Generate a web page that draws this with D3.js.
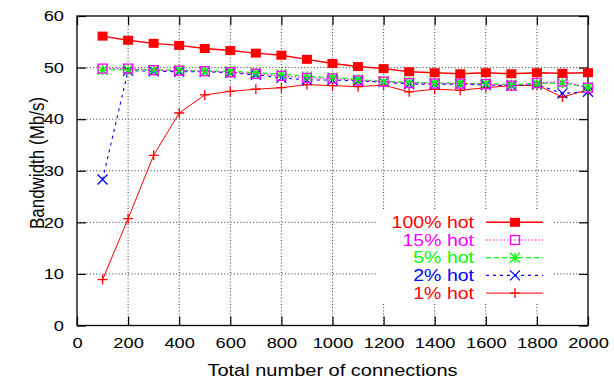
<!DOCTYPE html>
<html>
<head>
<meta charset="utf-8">
<script src="https://cdn.jsdelivr.net/npm/d3@7"></script>
<style>
  body { margin: 0; background: #fff; }
  text { font-family: "Liberation Sans", Arial, Helvetica, sans-serif; }
</style>
</head>
<body>
<div id="chart"></div>
<script>
var svgWidth = 614;
var svgHeight = 379;

var margin = { top: 16, right: 26, bottom: 53.5, left: 77 };

var width = svgWidth - margin.left - margin.right;
var height = svgHeight - margin.top - margin.bottom;

// the original picture is stretched sideways, so text is widened a bit
var stretch = 1.22;

// data
var connections = [100, 200, 300, 400, 500, 600, 700, 800, 900, 1000,
                   1100, 1200, 1300, 1400, 1500, 1600, 1700, 1800, 1900, 2000];
var hot100 = [56.1, 55.3, 54.7, 54.3, 53.7, 53.3, 52.8, 52.4, 51.6, 50.8,
              50.2, 49.8, 49.2, 49.0, 48.8, 49.0, 48.8, 49.0, 48.9, 49.0];
var hot15 = [49.8, 49.8, 49.5, 49.4, 49.3, 49.1, 48.8, 48.4, 48.0, 47.9,
             47.5, 47.3, 47.0, 46.9, 46.9, 46.8, 46.5, 47.0, 47.3, 46.1];
var hot5 = [49.5, 49.6, 49.5, 49.5, 49.3, 49.3, 49.0, 48.7, 48.3, 48.1,
            47.7, 47.3, 47.2, 47.0, 47.0, 46.9, 46.7, 46.9, 47.0, 46.2];
var hot2 = [28.3, 49.4, 49.3, 49.2, 49.2, 49.0, 48.6, 48.0, 47.6, 47.6,
            47.4, 47.2, 46.8, 46.8, 46.8, 46.6, 46.5, 46.7, 45.0, 45.3];
var hot1 = [8.9, 20.7, 33.0, 41.2, 44.7, 45.4, 45.8, 46.1, 46.7, 46.5,
            46.3, 46.6, 45.3, 45.8, 45.6, 46.1, 46.5, 46.6, 44.3, 45.7];
var seriesNames = ["100% hot", "15% hot", "5% hot", "2% hot", "1% hot"];
var xTicks = [0, 200, 400, 600, 800, 1000, 1200, 1400, 1600, 1800, 2000];
var yTicks = [0, 10, 20, 30, 40, 50, 60];

// how each series is drawn
var styles = [
  { values: hot100, color: "#ff0000", dash: null, lw: 1.4, marker: "filled" },
  { values: hot15, color: "#ff00ff", dash: "1.5,2", lw: 1.2, marker: "open" },
  { values: hot5, color: "#00ff00", dash: "5,3", lw: 1.2, marker: "star" },
  { values: hot2, color: "#0000ff", dash: "3,4", lw: 1.1, marker: "cross" },
  { values: hot1, color: "#ff0000", dash: null, lw: 1, marker: "plus" }
];

var svg = d3.select("#chart")
  .append("svg")
  .attr("width", svgWidth)
  .attr("height", svgHeight);

var chartGroup = svg.append("g")
  .attr("transform", `translate(${margin.left},${margin.top})`);

var xScale = d3.scaleLinear().domain([0, 2000]).range([0, width]);
var yScale = d3.scaleLinear().domain([0, 60]).range([height, 0]);

// dotted grid
var grid = chartGroup.append("g");
grid.selectAll(".gx")
  .data(xTicks.slice(1, -1))
  .enter()
  .append("line")
  .attr("x1", d => xScale(d)).attr("x2", d => xScale(d))
  .attr("y1", 0).attr("y2", height);
grid.selectAll(".gy")
  .data(yTicks.slice(1, -1))
  .enter()
  .append("line")
  .attr("y1", d => yScale(d)).attr("y2", d => yScale(d))
  .attr("x1", 0).attr("x2", width);
grid.selectAll("line")
  .attr("stroke", "#333")
  .attr("stroke-width", 1)
  .attr("stroke-dasharray", "1,2.2");

// axes with ticks pointing inward on all four sides
var tickLen = 9;
var fmt = d3.format("d");
var bottomAxis = d3.axisBottom(xScale).tickValues(xTicks).tickSize(-tickLen).tickPadding(12).tickFormat(fmt);
var topAxis = d3.axisTop(xScale).tickValues(xTicks).tickSize(-tickLen).tickFormat("");
var leftAxis = d3.axisLeft(yScale).tickValues(yTicks).tickSize(-tickLen).tickFormat(fmt);
var rightAxis = d3.axisRight(yScale).tickValues(yTicks).tickSize(-tickLen).tickFormat("");

var xAxisG = chartGroup.append("g").attr("transform", `translate(0,${height})`).call(bottomAxis);
chartGroup.append("g").call(topAxis);
var yAxisG = chartGroup.append("g").call(leftAxis);
chartGroup.append("g").attr("transform", `translate(${width},0)`).call(rightAxis);

chartGroup.selectAll(".domain").remove();
chartGroup.selectAll(".tick line").attr("stroke", "#000").attr("stroke-width", 1.2);
chartGroup.selectAll(".tick text")
  .attr("font-size", 15)
  .attr("fill", "#000")
  .style("font-family", "'Liberation Sans', Arial, sans-serif");
xAxisG.selectAll(".tick text")
  .attr("transform", `scale(${stretch},1)`);
yAxisG.selectAll(".tick text")
  .attr("x", 0)
  .attr("transform", `translate(-13,0) scale(${stretch},1)`);

chartGroup.append("rect")
  .attr("width", width).attr("height", height)
  .attr("fill", "none")
  .attr("stroke", "#000")
  .attr("stroke-width", 1.3);

// marker drawing
function drawMarker(g, type, color, cx, cy) {
  var s = 5;
  if (type === "filled") {
    g.append("rect").attr("x", cx - s).attr("y", cy - 4.5)
      .attr("width", 2 * s).attr("height", 9).attr("fill", color);
  } else if (type === "open") {
    g.append("rect").attr("x", cx - 4.5).attr("y", cy - 4.5)
      .attr("width", 9).attr("height", 9)
      .attr("fill", "none").attr("stroke", color).attr("stroke-width", 1.3);
  } else {
    var p = "";
    if (type === "plus" || type === "star") {
      p += `M${cx - s},${cy}H${cx + s}M${cx},${cy - s}V${cy + s}`;
    }
    if (type === "cross" || type === "star") {
      p += `M${cx - s},${cy - s}L${cx + s},${cy + s}M${cx - s},${cy + s}L${cx + s},${cy - s}`;
    }
    g.append("path").attr("d", p).attr("fill", "none")
      .attr("stroke", color).attr("stroke-width", 1.3);
  }
}

var line = d3.line()
  .x((d, i) => xScale(connections[i]))
  .y(d => yScale(d));

// draw back to front so the 100% series sits on top
styles.slice().reverse().forEach(function(st) {
  var g = chartGroup.append("g");
  g.append("path")
    .attr("d", line(st.values))
    .attr("fill", "none")
    .attr("stroke", st.color)
    .attr("stroke-width", st.lw)
    .attr("stroke-dasharray", st.dash);
  st.values.forEach(function(v, i) {
    drawMarker(g, st.marker, st.color, xScale(connections[i]), yScale(v));
  });
});

// legend (opaque box hides the grid behind it)
var legend = svg.append("g");
legend.append("rect")
  .attr("x", 376).attr("y", 211)
  .attr("width", 177).attr("height", 92)
  .attr("fill", "#fff");

seriesNames.forEach(function(name, i) {
  var st = styles[i];
  var y = 222.3 + i * 17.7;
  legend.append("text")
    .attr("transform", `translate(474,${y}) scale(${stretch},1)`)
    .attr("dy", "0.36em")
    .attr("text-anchor", "end")
    .attr("font-size", 16)
    .attr("fill", st.color)
    .text(name);
  legend.append("line")
    .attr("x1", 486).attr("x2", 543)
    .attr("y1", y).attr("y2", y)
    .attr("stroke", st.color)
    .attr("stroke-width", st.lw)
    .attr("stroke-dasharray", st.dash);
  drawMarker(legend, st.marker, st.color, 515, y);
});

// axis titles
svg.append("text")
  .attr("transform", `translate(${margin.left + width / 2},376) scale(1.25,1)`)
  .attr("text-anchor", "middle")
  .attr("font-size", 16)
  .text("Total number of connections");

svg.append("text")
  .attr("transform", "translate(44,163) scale(1.2,1) rotate(-90)")
  .attr("text-anchor", "middle")
  .attr("font-size", 17)
  .text("Bandwidth (Mb/s)");
</script>
</body>
</html>
